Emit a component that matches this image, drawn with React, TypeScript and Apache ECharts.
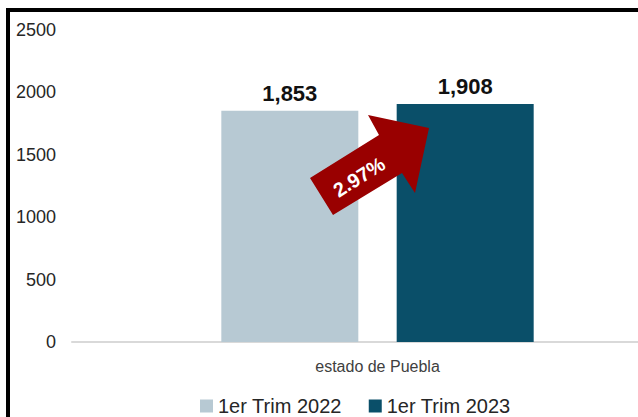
import React, { useEffect, useRef } from "react";
import * as echarts from "echarts";

const categories: string[] = ["estado de Puebla"];
const seriesNames: string[] = ["1er Trim 2022", "1er Trim 2023"];
const values2022: number[] = [1853];
const values2023: number[] = [1908];
const yTicks = { min: 0, max: 2500, interval: 500 };
const changeLabel = "2.97%";

const COLORS = ["#B7C9D3", "#0A4F69"];

export default function App() {
  const ref = useRef<HTMLDivElement>(null);
  useEffect(() => {
    if (!ref.current) return;
    const chart = echarts.init(ref.current, undefined, { renderer: "svg" });
    const labelStyle = {
      show: true,
      position: "top" as const,
      distance: 6,
      fontFamily: "Liberation Sans, Arial, sans-serif",
      fontWeight: "bold" as const,
      fontSize: 22,
      color: "#111111",
      formatter: (p: any) => Number(p.value).toLocaleString("en-US"),
    };
    chart.setOption({
      animation: false,
      backgroundColor: "#ffffff",
      grid: { left: 72, right: 17, top: 30, bottom: 118, containLabel: false },
      legend: {
        left: 200,
        top: 396,
        itemWidth: 13,
        itemHeight: 13,
        itemGap: 27,
        icon: "rect",
        textStyle: {
          fontFamily: "Liberation Sans, Arial, sans-serif",
          fontSize: 20,
          lineHeight: 20,
          color: "#262626",
          padding: [0, 0, 0, 0],
        },
        padding: 0,
        data: seriesNames,
      },
      xAxis: {
        type: "category",
        data: categories,
        axisLine: { show: true, lineStyle: { color: "#D9D9D9", width: 2 } },
        axisTick: { show: false },
        axisLabel: {
          margin: 16,
          fontFamily: "Liberation Sans, Arial, sans-serif",
          fontSize: 16,
          color: "#404040",
        },
      },
      yAxis: {
        type: "value",
        min: yTicks.min,
        max: yTicks.max,
        interval: yTicks.interval,
        axisLine: { show: false },
        axisTick: { show: false },
        splitLine: { show: false },
        axisLabel: {
          margin: 16,
          fontFamily: "Liberation Sans, Arial, sans-serif",
          fontSize: 18,
          color: "#262626",
          formatter: (v: number) => String(v),
        },
      },
      series: [
        {
          name: seriesNames[0],
          type: "bar",
          data: values2022,
          barWidth: 137,
          barGap: "28%",
          itemStyle: { color: COLORS[0] },
          label: labelStyle,
        },
        {
          name: seriesNames[1],
          type: "bar",
          data: values2023,
          barWidth: 137,
          barGap: "28%",
          itemStyle: { color: COLORS[1] },
          label: labelStyle,
        },
      ],
      graphic: [
        {
          type: "rect",
          shape: { x: 8, y: 10, width: 1200, height: 1200 },
          style: { fill: "none", stroke: "#000000", lineWidth: 4 },
          z: 100,
        },
        {
          type: "polygon",
          shape: {
            points: [
              [310, 178],
              [379, 135],
              [368, 115],
              [429, 128],
              [415, 193],
              [402, 173],
              [333, 215],
            ],
          },
          style: { fill: "#990000" },
          z: 50,
        },
        {
          type: "text",
          x: 359,
          y: 177,
          rotation: (32 * Math.PI) / 180,
          style: {
            text: changeLabel,
            fill: "#ffffff",
            font: "bold 20px 'Liberation Sans', Arial, sans-serif",
            textAlign: "center",
            textVerticalAlign: "middle",
          },
          z: 51,
        },
      ],
    });
    return () => chart.dispose();
  }, []);
  return (
    <div
      style={{
        position: "fixed",
        left: 0,
        top: 0,
        width: 638,
        height: 417,
        overflow: "hidden",
        background: "#fff",
      }}
    >
      <div ref={ref} style={{ width: 700, height: 460 }} />
    </div>
  );
}
